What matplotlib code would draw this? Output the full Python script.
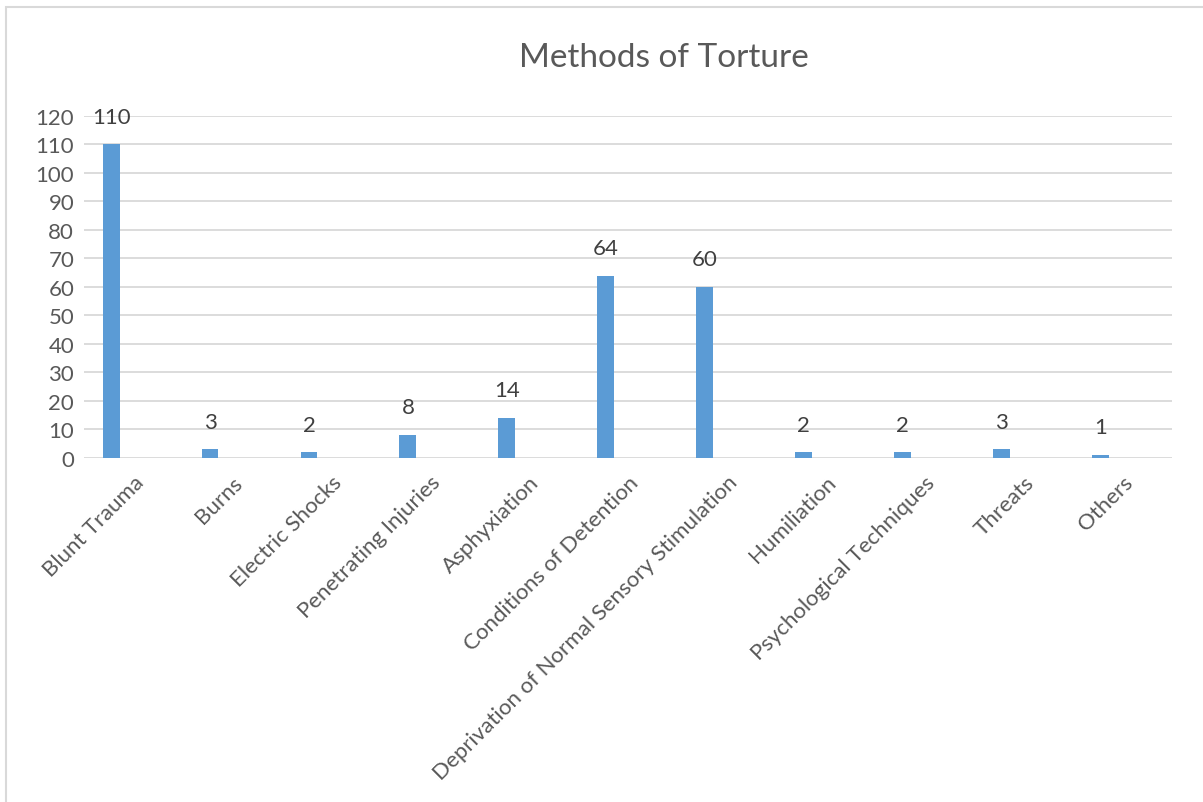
import matplotlib.pyplot as plt
import matplotlib.patches as patches
import numpy as np

categories = ["Blunt Trauma", "Burns", "Electric Shocks", "Penetrating Injuries",
              "Asphyxiation", "Conditions of Detention",
              "Deprivation of Normal Sensory Stimulation", "Humiliation",
              "Psychological Techniques", "Threats", "Others"]
counts = [110, 3, 2, 8, 14, 64, 60, 2, 2, 3, 1]
y_ticks = list(range(0, 121, 10))

plt.rcParams['font.family'] = ['Lato', 'DejaVu Sans']

fig = plt.figure(figsize=(12.03, 8.03), dpi=100)
ax = fig.add_axes([0.0698, 0.4284, 0.9044, 0.4259])

x = np.arange(len(categories))
# bars sit left of the category centre (Excel cluster offset)
bar_x = x - 0.225
ax.bar(bar_x, counts, width=0.17, color='#5b9bd5', zorder=3)

for bx, v in zip(bar_x, counts):
    ax.annotate(str(v), (bx, v), xytext=(0, 20), textcoords='offset points',
                ha='center', va='center', fontsize=16, color='#404040')

ax.set_xlim(-0.5, len(categories) - 0.5)
ax.set_ylim(0, 120)
ax.set_yticks(y_ticks)
ax.set_yticklabels([str(t) for t in y_ticks], fontsize=16, color='#595959')
ax.set_xticks(x)
ax.set_xticklabels(categories, rotation=45, ha='right', rotation_mode='anchor',
                   fontsize=16, color='#595959')
ax.tick_params(length=0, pad=7)
ax.tick_params(axis='x', pad=10)
ax.grid(axis='y', color='#d9d9d9', linewidth=1.3, zorder=0)
for s in ax.spines.values():
    s.set_visible(False)

fig.text(0.552, 0.928, "Methods of Torture", ha='center', va='center',
         fontsize=24, color='#595959')

# light frame around the chart area
fig.patches.append(patches.Rectangle((6 / 1203, -0.01), 1.02, 1 - 8 / 803 + 0.01,
                                     transform=fig.transFigure, fill=False,
                                     edgecolor='#d9d9d9', linewidth=1.5))

fig.savefig('out.png', dpi=100)
